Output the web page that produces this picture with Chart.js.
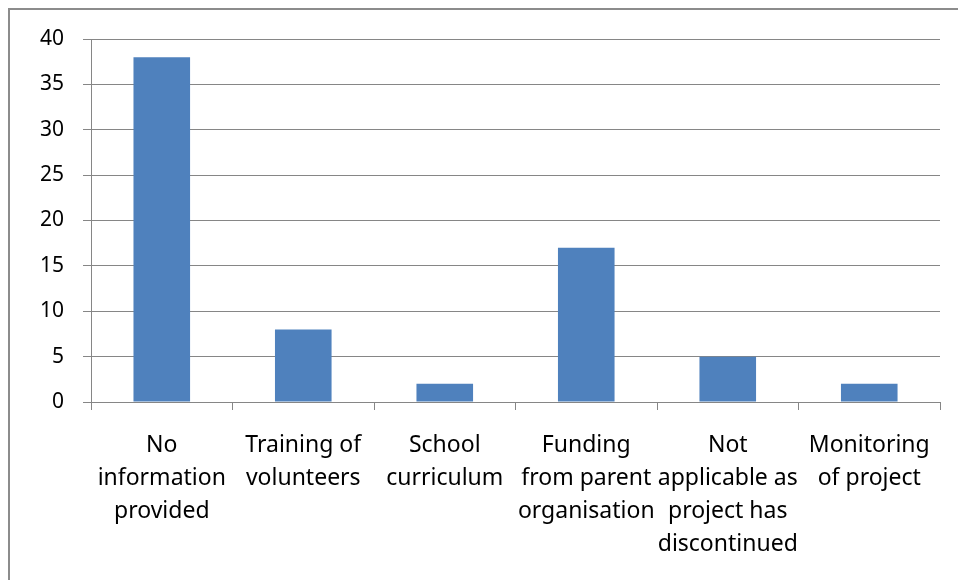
<!DOCTYPE html>
<html lang="en">
<head>
    <meta charset="UTF-8">
    <title>Sustainability issues</title>
    <script src="https://cdn.jsdelivr.net/npm/chart.js"></script>
    <style>
        html, body { margin: 0; padding: 0; background: #fff; overflow: hidden; }
        .frame { position: absolute; left: 8px; top: 8px; width: 1000px; height: 1000px; border: 2px solid #8c8c8c; }
        .chart-box { position: absolute; left: 0; top: 0; width: 958px; height: 580px; }
    </style>
</head>
<body>
    <div class="frame"></div>
    <div class="chart-box"><canvas id="barChart"></canvas></div>
    <script>
        // categories (already wrapped the way the original shows them)
        const categories = [
            ['No', 'information', 'provided'],
            ['Training of', 'volunteers'],
            ['School', 'curriculum'],
            ['Funding', 'from parent', 'organisation'],
            ['Not', 'applicable as', 'project has', 'discontinued'],
            ['Monitoring', 'of project']
        ];
        const counts = [38, 8, 2, 17, 5, 2];
        const yTicks = [0, 5, 10, 15, 20, 25, 30, 35, 40];

        const gridGrey = '#868686';
        const family = '"Noto Sans", sans-serif';

        new Chart(document.getElementById('barChart'), {
            type: 'bar',
            data: {
                labels: categories,
                datasets: [{
                    data: counts,
                    backgroundColor: '#4f81bd',
                    borderWidth: 0,
                    categoryPercentage: 1,
                    barPercentage: 0.4
                }]
            },
            options: {
                responsive: true,
                maintainAspectRatio: false,
                animation: false,
                layout: { padding: { left: 21, right: 18, top: 39, bottom: 0 } },
                plugins: { legend: { display: false }, tooltip: { enabled: false } },
                scales: {
                    x: {
                        grid: { drawOnChartArea: false, color: gridGrey, tickLength: 8, offset: true },
                        border: { color: gridGrey },
                        ticks: { color: '#000', font: { family: family, size: 23, lineHeight: '33px' }, padding: 19, maxRotation: 0, autoSkip: false }
                    },
                    y: {
                        min: 0,
                        max: 40,
                        afterBuildTicks: axis => { axis.ticks = yTicks.map(v => ({ value: v })); },
                        grid: { color: gridGrey, tickLength: 8 },
                        border: { color: gridGrey },
                        ticks: { color: '#000', font: { family: family, size: 21 }, padding: 19 }
                    }
                }
            }
        });
    </script>
</body>
</html>
